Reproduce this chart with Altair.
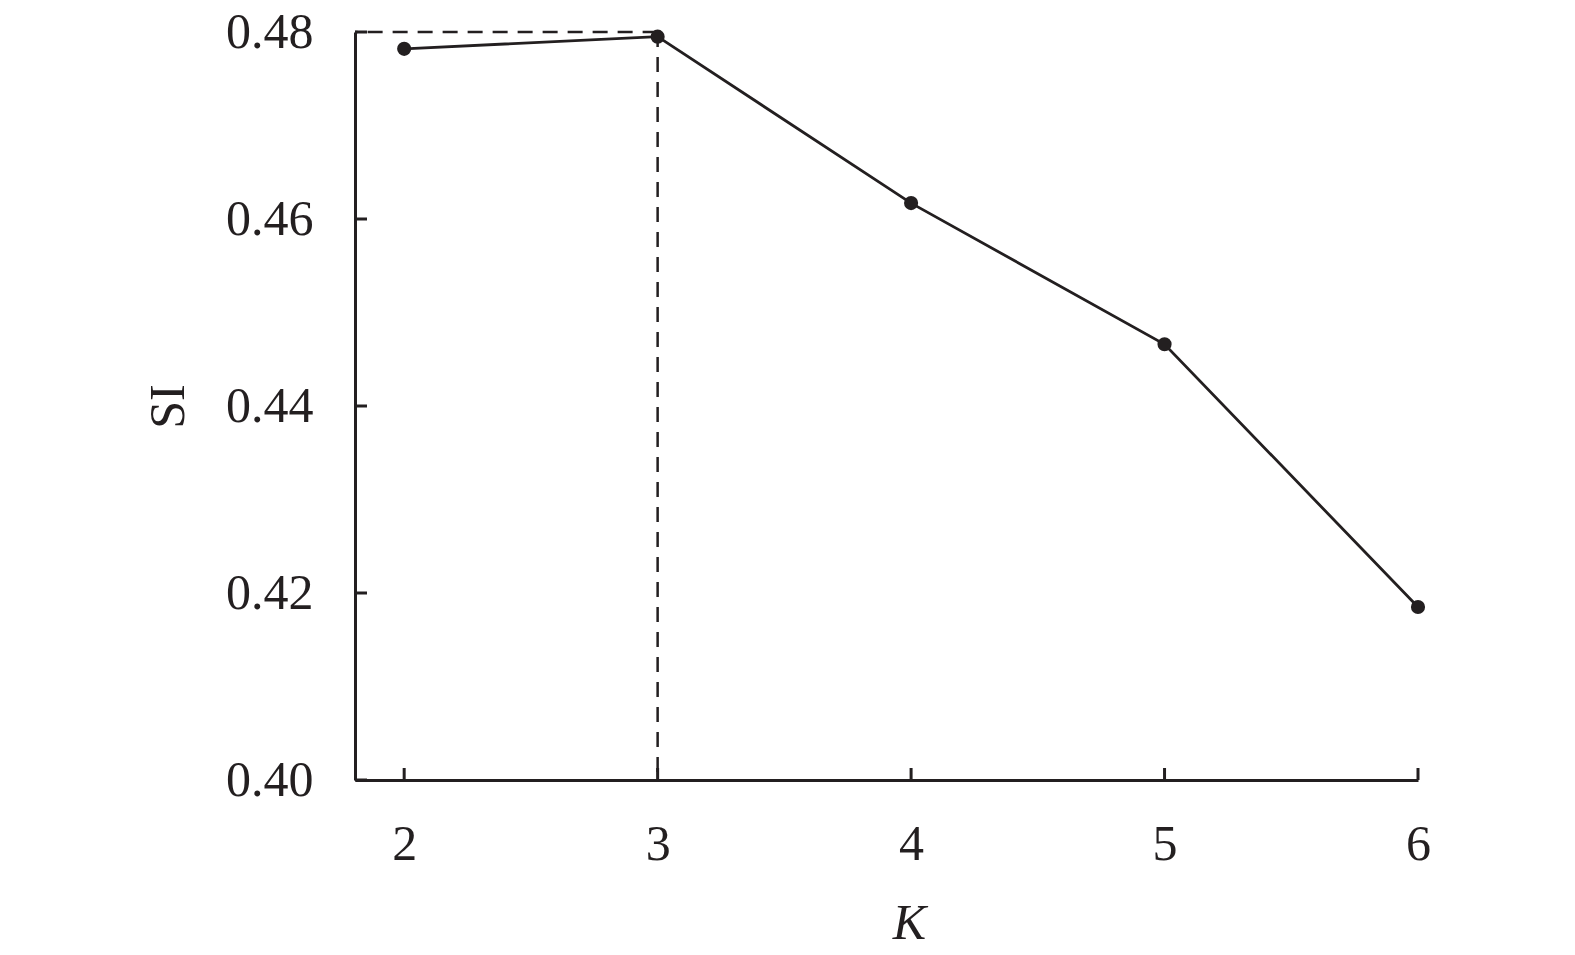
import altair as alt
import pandas as pd

k_values = [2, 3, 4, 5, 6]
si_values = [0.4782, 0.4795, 0.4617, 0.4466, 0.4185]
y_ticks = [0.40, 0.42, 0.44, 0.46, 0.48]
x_ticks = [2, 3, 4, 5, 6]
best_k = 3
best_si_level = 0.48

INK = "#231f20"
FONT = "Liberation Serif"
W, H = 1063, 748
X_DOMAIN = [1.806, 6]
Y_DOMAIN = [0.40, 0.48]

df = pd.DataFrame({"K": k_values, "SI": si_values})
xt = pd.DataFrame({"K": x_ticks})
yt = pd.DataFrame({"SI": y_ticks})

xscale = alt.Scale(domain=X_DOMAIN, nice=False, zero=False)
yscale = alt.Scale(domain=Y_DOMAIN, nice=False, zero=False)

x_axis = alt.Axis(
    values=x_ticks, format="d", ticks=False, grid=False,
    domainColor=INK, domainWidth=3,
    labelFont=FONT, labelFontSize=50, labelColor=INK, labelFlush=False,
    labelBaseline="alphabetic", labelPadding=79,
    title="K", titleFont=FONT, titleFontSize=50, titleFontStyle="italic",
    titleFontWeight="normal", titleColor=INK,
    titleBaseline="alphabetic", titleY=158, titleX=554, titleAlign="center",
)
y_axis = alt.Axis(
    values=y_ticks, format=".2f", ticks=False, grid=False,
    domainColor=INK, domainWidth=3,
    labelFont=FONT, labelFontSize=50, labelColor=INK, labelFlush=False,
    labelPadding=42,
    title="SI", titleFont=FONT, titleFontSize=50, titleFontWeight="normal",
    titleColor=INK, titleX=-187, titleY=H / 2, titleBaseline="middle",
    titleAngle=-90,
)

base = alt.Chart(df)

line = base.mark_line(color=INK, strokeWidth=2.8).encode(
    x=alt.X("K:Q", scale=xscale, axis=x_axis),
    y=alt.Y("SI:Q", scale=yscale, axis=y_axis),
)
points = base.mark_circle(color=INK, opacity=1, size=200).encode(
    x=alt.X("K:Q", scale=xscale),
    y=alt.Y("SI:Q", scale=yscale),
)

peak = pd.DataFrame({"K": [best_k], "SI": [best_si_level], "SI0": [Y_DOMAIN[0]]})
hdash = alt.Chart(peak).mark_rule(
    color=INK, strokeWidth=2.5, strokeDash=[15, 10]
).encode(
    x=alt.X("K:Q", scale=xscale),
    x2=alt.value(0),
    y=alt.Y("SI:Q", scale=yscale),
)
vdash = alt.Chart(peak).mark_rule(
    color=INK, strokeWidth=2.5, strokeDash=[15, 10]
).encode(
    x=alt.X("K:Q", scale=xscale),
    y=alt.Y("SI:Q", scale=yscale),
    y2=alt.Y2("SI0:Q"),
)

xticks = alt.Chart(xt).mark_rule(color=INK, strokeWidth=3).encode(
    x=alt.X("K:Q", scale=xscale),
    y=alt.value(H),
    y2=alt.value(H - 12),
)
yticks = alt.Chart(yt).mark_rule(color=INK, strokeWidth=3).encode(
    y=alt.Y("SI:Q", scale=yscale),
    x=alt.value(0),
    x2=alt.value(12),
)

chart = alt.layer(xticks, yticks, hdash, vdash, line, points).properties(
    width=W, height=H,
    autosize=alt.AutoSizeParams(type="none"),
    padding={"left": 347, "top": 24, "right": 140, "bottom": 167},
    background="white",
).configure_view(stroke=None)

chart.save("out.html", embed_options={"renderer": "svg", "actions": False})
